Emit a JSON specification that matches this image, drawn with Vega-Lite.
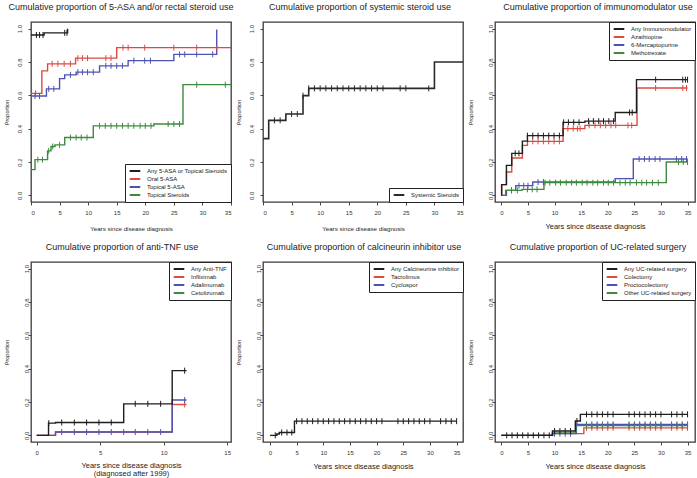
{
"$schema": "https://vega.github.io/schema/vega-lite/v6.json",
"background": "white",
"padding": {"left": 3, "top": 1, "right": 0, "bottom": 0},
"config": {
 "font": "Liberation Sans",
 "view": {"stroke": "#3a3a3a", "strokeWidth": 1.3},
 "title": {"fontSize": 9, "fontWeight": "normal", "color": "#222", "anchor": "middle", "frame": "group", "offset": 10},
 "axis": {"domain": false, "grid": false, "tickColor": "#444", "tickSize": 3, "tickWidth": 1, "labelFontSize": 6, "labelColor": "#333", "titleFontWeight": "normal", "titleColor": "#222", "titleFontSize": 7.5},
 "axisX": {"labelPadding": 4, "titleX": 100, "titleY": 24, "titleBaseline": "middle", "titleAlign": "center"},
 "axisY": {"labelAngle": 270, "labelAlign": "center", "labelBaseline": "middle", "labelPadding": 2, "titleAngle": 270, "titleFontSize": 5.5, "titleX": -25, "titleY": 90, "titleAlign": "center", "titleBaseline": "middle"},
 "legend": {"fillColor": "white", "strokeColor": "#222", "padding": 3, "offset": 0, "labelFontSize": 6, "labelColor": "#222", "symbolType": "M-2,0L2,0", "symbolSize": 28, "symbolStrokeWidth": 2, "symbolOffset": 3, "rowPadding": 0, "labelOffset": 8, "cornerRadius": 0}
},
"datasets": {
 "p1": [
  {"series":"Oral 5-ASA","kind":"step","years":0,"prop":0.612},
  {"series":"Oral 5-ASA","kind":"step","years":1.9,"prop":0.747},
  {"series":"Oral 5-ASA","kind":"step","years":2.9,"prop":0.789},
  {"series":"Oral 5-ASA","kind":"step","years":7.8,"prop":0.823},
  {"series":"Oral 5-ASA","kind":"step","years":15.0,"prop":0.886},
  {"series":"Oral 5-ASA","kind":"step","years":35,"prop":0.886},
  {"series":"Oral 5-ASA","kind":"cens","years":0.8,"prop":0.612},
  {"series":"Oral 5-ASA","kind":"cens","years":3.7,"prop":0.789},
  {"series":"Oral 5-ASA","kind":"cens","years":4.7,"prop":0.789},
  {"series":"Oral 5-ASA","kind":"cens","years":5.8,"prop":0.789},
  {"series":"Oral 5-ASA","kind":"cens","years":6.9,"prop":0.789},
  {"series":"Oral 5-ASA","kind":"cens","years":8.2,"prop":0.823},
  {"series":"Oral 5-ASA","kind":"cens","years":9.0,"prop":0.823},
  {"series":"Oral 5-ASA","kind":"cens","years":9.9,"prop":0.823},
  {"series":"Oral 5-ASA","kind":"cens","years":13.1,"prop":0.823},
  {"series":"Oral 5-ASA","kind":"cens","years":14.0,"prop":0.823},
  {"series":"Oral 5-ASA","kind":"cens","years":16.1,"prop":0.886},
  {"series":"Oral 5-ASA","kind":"cens","years":17.0,"prop":0.886},
  {"series":"Oral 5-ASA","kind":"cens","years":19.9,"prop":0.886},
  {"series":"Oral 5-ASA","kind":"cens","years":25.0,"prop":0.886},
  {"series":"Oral 5-ASA","kind":"cens","years":29.0,"prop":0.886},
  {"series":"Oral 5-ASA","kind":"cens","years":32.5,"prop":0.886},
  {"series":"Topical 5-ASA","kind":"step","years":0,"prop":0.596},
  {"series":"Topical 5-ASA","kind":"step","years":2.7,"prop":0.639},
  {"series":"Topical 5-ASA","kind":"step","years":5.0,"prop":0.70},
  {"series":"Topical 5-ASA","kind":"step","years":5.9,"prop":0.723},
  {"series":"Topical 5-ASA","kind":"step","years":7.9,"prop":0.739},
  {"series":"Topical 5-ASA","kind":"step","years":12.0,"prop":0.777},
  {"series":"Topical 5-ASA","kind":"step","years":17.0,"prop":0.808},
  {"series":"Topical 5-ASA","kind":"step","years":25.0,"prop":0.846},
  {"series":"Topical 5-ASA","kind":"step","years":32.5,"prop":0.995},
  {"series":"Topical 5-ASA","kind":"cens","years":0.7,"prop":0.596},
  {"series":"Topical 5-ASA","kind":"cens","years":1.5,"prop":0.596},
  {"series":"Topical 5-ASA","kind":"cens","years":3.1,"prop":0.639},
  {"series":"Topical 5-ASA","kind":"cens","years":4.0,"prop":0.639},
  {"series":"Topical 5-ASA","kind":"cens","years":6.9,"prop":0.723},
  {"series":"Topical 5-ASA","kind":"cens","years":8.2,"prop":0.739},
  {"series":"Topical 5-ASA","kind":"cens","years":9.0,"prop":0.739},
  {"series":"Topical 5-ASA","kind":"cens","years":9.9,"prop":0.739},
  {"series":"Topical 5-ASA","kind":"cens","years":10.9,"prop":0.739},
  {"series":"Topical 5-ASA","kind":"cens","years":13.1,"prop":0.777},
  {"series":"Topical 5-ASA","kind":"cens","years":14.0,"prop":0.777},
  {"series":"Topical 5-ASA","kind":"cens","years":15.0,"prop":0.777},
  {"series":"Topical 5-ASA","kind":"cens","years":16.0,"prop":0.777},
  {"series":"Topical 5-ASA","kind":"cens","years":18.0,"prop":0.808},
  {"series":"Topical 5-ASA","kind":"cens","years":19.9,"prop":0.808},
  {"series":"Topical 5-ASA","kind":"cens","years":20.9,"prop":0.808},
  {"series":"Topical 5-ASA","kind":"cens","years":26.0,"prop":0.846},
  {"series":"Topical 5-ASA","kind":"cens","years":26.9,"prop":0.846},
  {"series":"Topical 5-ASA","kind":"cens","years":29.0,"prop":0.846},
  {"series":"Topical 5-ASA","kind":"cens","years":31.8,"prop":0.846},
  {"series":"Topical Steroids","kind":"step","years":0,"prop":0.154},
  {"series":"Topical Steroids","kind":"step","years":0.7,"prop":0.214},
  {"series":"Topical Steroids","kind":"step","years":2.9,"prop":0.267},
  {"series":"Topical Steroids","kind":"step","years":3.5,"prop":0.293},
  {"series":"Topical Steroids","kind":"step","years":4.2,"prop":0.303},
  {"series":"Topical Steroids","kind":"step","years":5.9,"prop":0.347},
  {"series":"Topical Steroids","kind":"step","years":10.9,"prop":0.417},
  {"series":"Topical Steroids","kind":"step","years":21.5,"prop":0.428},
  {"series":"Topical Steroids","kind":"step","years":26.6,"prop":0.664},
  {"series":"Topical Steroids","kind":"step","years":35,"prop":0.664},
  {"series":"Topical Steroids","kind":"cens","years":1.2,"prop":0.214},
  {"series":"Topical Steroids","kind":"cens","years":2.0,"prop":0.214},
  {"series":"Topical Steroids","kind":"cens","years":3.1,"prop":0.267},
  {"series":"Topical Steroids","kind":"cens","years":3.8,"prop":0.293},
  {"series":"Topical Steroids","kind":"cens","years":5.0,"prop":0.303},
  {"series":"Topical Steroids","kind":"cens","years":6.9,"prop":0.347},
  {"series":"Topical Steroids","kind":"cens","years":7.9,"prop":0.347},
  {"series":"Topical Steroids","kind":"cens","years":8.8,"prop":0.347},
  {"series":"Topical Steroids","kind":"cens","years":9.8,"prop":0.347},
  {"series":"Topical Steroids","kind":"cens","years":12,"prop":0.417},
  {"series":"Topical Steroids","kind":"cens","years":13,"prop":0.417},
  {"series":"Topical Steroids","kind":"cens","years":14,"prop":0.417},
  {"series":"Topical Steroids","kind":"cens","years":15,"prop":0.417},
  {"series":"Topical Steroids","kind":"cens","years":16,"prop":0.417},
  {"series":"Topical Steroids","kind":"cens","years":17,"prop":0.417},
  {"series":"Topical Steroids","kind":"cens","years":18,"prop":0.417},
  {"series":"Topical Steroids","kind":"cens","years":19.1,"prop":0.417},
  {"series":"Topical Steroids","kind":"cens","years":20,"prop":0.417},
  {"series":"Topical Steroids","kind":"cens","years":21,"prop":0.417},
  {"series":"Topical Steroids","kind":"cens","years":24,"prop":0.428},
  {"series":"Topical Steroids","kind":"cens","years":25,"prop":0.428},
  {"series":"Topical Steroids","kind":"cens","years":26,"prop":0.428},
  {"series":"Topical Steroids","kind":"cens","years":29,"prop":0.664},
  {"series":"Topical Steroids","kind":"cens","years":34,"prop":0.664},
  {"series":"Any 5-ASA or Topical Steroids","kind":"step","years":0,"prop":0.962},
  {"series":"Any 5-ASA or Topical Steroids","kind":"step","years":2.3,"prop":0.975},
  {"series":"Any 5-ASA or Topical Steroids","kind":"step","years":6.4,"prop":1.0},
  {"series":"Any 5-ASA or Topical Steroids","kind":"cens","years":0.95,"prop":0.962},
  {"series":"Any 5-ASA or Topical Steroids","kind":"cens","years":1.5,"prop":0.962},
  {"series":"Any 5-ASA or Topical Steroids","kind":"cens","years":2.1,"prop":0.962},
  {"series":"Any 5-ASA or Topical Steroids","kind":"cens","years":5.9,"prop":0.975},
  {"series":"Any 5-ASA or Topical Steroids","kind":"cens","years":6.3,"prop":0.975}
 ],
 "p2": [
  {"series":"Systemic Steroids","kind":"step","years":0,"prop":0.34},
  {"series":"Systemic Steroids","kind":"step","years":1.0,"prop":0.45},
  {"series":"Systemic Steroids","kind":"step","years":4.0,"prop":0.488},
  {"series":"Systemic Steroids","kind":"step","years":7.0,"prop":0.598},
  {"series":"Systemic Steroids","kind":"step","years":8.0,"prop":0.642},
  {"series":"Systemic Steroids","kind":"step","years":30.0,"prop":0.80},
  {"series":"Systemic Steroids","kind":"step","years":35,"prop":0.80},
  {"series":"Systemic Steroids","kind":"cens","years":2,"prop":0.45},
  {"series":"Systemic Steroids","kind":"cens","years":3,"prop":0.45},
  {"series":"Systemic Steroids","kind":"cens","years":5,"prop":0.488},
  {"series":"Systemic Steroids","kind":"cens","years":6,"prop":0.488},
  {"series":"Systemic Steroids","kind":"cens","years":7,"prop":0.598},
  {"series":"Systemic Steroids","kind":"cens","years":8,"prop":0.642},
  {"series":"Systemic Steroids","kind":"cens","years":9,"prop":0.642},
  {"series":"Systemic Steroids","kind":"cens","years":10,"prop":0.642},
  {"series":"Systemic Steroids","kind":"cens","years":11,"prop":0.642},
  {"series":"Systemic Steroids","kind":"cens","years":12,"prop":0.642},
  {"series":"Systemic Steroids","kind":"cens","years":13,"prop":0.642},
  {"series":"Systemic Steroids","kind":"cens","years":14,"prop":0.642},
  {"series":"Systemic Steroids","kind":"cens","years":15,"prop":0.642},
  {"series":"Systemic Steroids","kind":"cens","years":16,"prop":0.642},
  {"series":"Systemic Steroids","kind":"cens","years":17,"prop":0.642},
  {"series":"Systemic Steroids","kind":"cens","years":18,"prop":0.642},
  {"series":"Systemic Steroids","kind":"cens","years":19,"prop":0.642},
  {"series":"Systemic Steroids","kind":"cens","years":20,"prop":0.642},
  {"series":"Systemic Steroids","kind":"cens","years":21,"prop":0.642},
  {"series":"Systemic Steroids","kind":"cens","years":24,"prop":0.642},
  {"series":"Systemic Steroids","kind":"cens","years":25,"prop":0.642},
  {"series":"Systemic Steroids","kind":"cens","years":29,"prop":0.642}
 ],
 "p3": [
  {"series":"Azathiopine","kind":"step","years":0,"prop":0},
  {"series":"Azathiopine","kind":"step","years":0.05,"prop":0.064},
  {"series":"Azathiopine","kind":"step","years":0.95,"prop":0.14},
  {"series":"Azathiopine","kind":"step","years":1.95,"prop":0.224},
  {"series":"Azathiopine","kind":"step","years":3.95,"prop":0.30},
  {"series":"Azathiopine","kind":"step","years":4.9,"prop":0.324},
  {"series":"Azathiopine","kind":"step","years":11.6,"prop":0.40},
  {"series":"Azathiopine","kind":"step","years":15.7,"prop":0.42},
  {"series":"Azathiopine","kind":"step","years":25.5,"prop":0.644},
  {"series":"Azathiopine","kind":"step","years":35,"prop":0.644},
  {"series":"Azathiopine","kind":"cens","years":5.9,"prop":0.324},
  {"series":"Azathiopine","kind":"cens","years":6.9,"prop":0.324},
  {"series":"Azathiopine","kind":"cens","years":7.9,"prop":0.324},
  {"series":"Azathiopine","kind":"cens","years":8.9,"prop":0.324},
  {"series":"Azathiopine","kind":"cens","years":9.9,"prop":0.324},
  {"series":"Azathiopine","kind":"cens","years":10.9,"prop":0.324},
  {"series":"Azathiopine","kind":"cens","years":12.5,"prop":0.40},
  {"series":"Azathiopine","kind":"cens","years":13.5,"prop":0.40},
  {"series":"Azathiopine","kind":"cens","years":14.3,"prop":0.40},
  {"series":"Azathiopine","kind":"cens","years":14.8,"prop":0.40},
  {"series":"Azathiopine","kind":"cens","years":16.5,"prop":0.42},
  {"series":"Azathiopine","kind":"cens","years":17.6,"prop":0.42},
  {"series":"Azathiopine","kind":"cens","years":18.6,"prop":0.42},
  {"series":"Azathiopine","kind":"cens","years":19.6,"prop":0.42},
  {"series":"Azathiopine","kind":"cens","years":20.6,"prop":0.42},
  {"series":"Azathiopine","kind":"cens","years":21.5,"prop":0.42},
  {"series":"Azathiopine","kind":"cens","years":23.8,"prop":0.42},
  {"series":"Azathiopine","kind":"cens","years":24.5,"prop":0.42},
  {"series":"Azathiopine","kind":"cens","years":29.0,"prop":0.644},
  {"series":"Azathiopine","kind":"cens","years":34.1,"prop":0.644},
  {"series":"Azathiopine","kind":"cens","years":34.8,"prop":0.644},
  {"series":"6-Mercaptopurine","kind":"step","years":0,"prop":0},
  {"series":"6-Mercaptopurine","kind":"step","years":0.95,"prop":0.03},
  {"series":"6-Mercaptopurine","kind":"step","years":2.7,"prop":0.058},
  {"series":"6-Mercaptopurine","kind":"step","years":5.9,"prop":0.08},
  {"series":"6-Mercaptopurine","kind":"step","years":21.4,"prop":0.10},
  {"series":"6-Mercaptopurine","kind":"step","years":24.8,"prop":0.218},
  {"series":"6-Mercaptopurine","kind":"step","years":35,"prop":0.218},
  {"series":"6-Mercaptopurine","kind":"cens","years":1.9,"prop":0.03},
  {"series":"6-Mercaptopurine","kind":"cens","years":3.3,"prop":0.058},
  {"series":"6-Mercaptopurine","kind":"cens","years":4.2,"prop":0.058},
  {"series":"6-Mercaptopurine","kind":"cens","years":5.0,"prop":0.058},
  {"series":"6-Mercaptopurine","kind":"cens","years":6.9,"prop":0.08},
  {"series":"6-Mercaptopurine","kind":"cens","years":7.9,"prop":0.08},
  {"series":"6-Mercaptopurine","kind":"cens","years":25.9,"prop":0.218},
  {"series":"6-Mercaptopurine","kind":"cens","years":26.9,"prop":0.218},
  {"series":"6-Mercaptopurine","kind":"cens","years":27.8,"prop":0.218},
  {"series":"6-Mercaptopurine","kind":"cens","years":28.9,"prop":0.218},
  {"series":"6-Mercaptopurine","kind":"cens","years":29.8,"prop":0.218},
  {"series":"6-Mercaptopurine","kind":"cens","years":32.9,"prop":0.218},
  {"series":"6-Mercaptopurine","kind":"cens","years":33.9,"prop":0.218},
  {"series":"6-Mercaptopurine","kind":"cens","years":34.8,"prop":0.218},
  {"series":"Methotrexate","kind":"step","years":0,"prop":0},
  {"series":"Methotrexate","kind":"step","years":0.8,"prop":0.03},
  {"series":"Methotrexate","kind":"step","years":3.9,"prop":0.036},
  {"series":"Methotrexate","kind":"step","years":8.0,"prop":0.076},
  {"series":"Methotrexate","kind":"step","years":31.0,"prop":0.20},
  {"series":"Methotrexate","kind":"step","years":35,"prop":0.20},
  {"series":"Methotrexate","kind":"cens","years":1.9,"prop":0.03},
  {"series":"Methotrexate","kind":"cens","years":3.0,"prop":0.03},
  {"series":"Methotrexate","kind":"cens","years":4.9,"prop":0.036},
  {"series":"Methotrexate","kind":"cens","years":5.8,"prop":0.036},
  {"series":"Methotrexate","kind":"cens","years":6.7,"prop":0.036},
  {"series":"Methotrexate","kind":"cens","years":8.2,"prop":0.076},
  {"series":"Methotrexate","kind":"cens","years":9.1,"prop":0.076},
  {"series":"Methotrexate","kind":"cens","years":10.2,"prop":0.076},
  {"series":"Methotrexate","kind":"cens","years":11.1,"prop":0.076},
  {"series":"Methotrexate","kind":"cens","years":12.2,"prop":0.076},
  {"series":"Methotrexate","kind":"cens","years":13.2,"prop":0.076},
  {"series":"Methotrexate","kind":"cens","years":14.1,"prop":0.076},
  {"series":"Methotrexate","kind":"cens","years":15.2,"prop":0.076},
  {"series":"Methotrexate","kind":"cens","years":16.1,"prop":0.076},
  {"series":"Methotrexate","kind":"cens","years":17.2,"prop":0.076},
  {"series":"Methotrexate","kind":"cens","years":18.1,"prop":0.076},
  {"series":"Methotrexate","kind":"cens","years":19.2,"prop":0.076},
  {"series":"Methotrexate","kind":"cens","years":20.1,"prop":0.076},
  {"series":"Methotrexate","kind":"cens","years":21.1,"prop":0.076},
  {"series":"Methotrexate","kind":"cens","years":22.3,"prop":0.076},
  {"series":"Methotrexate","kind":"cens","years":23.3,"prop":0.076},
  {"series":"Methotrexate","kind":"cens","years":24.2,"prop":0.076},
  {"series":"Methotrexate","kind":"cens","years":25.4,"prop":0.076},
  {"series":"Methotrexate","kind":"cens","years":26.4,"prop":0.076},
  {"series":"Methotrexate","kind":"cens","years":27.3,"prop":0.076},
  {"series":"Methotrexate","kind":"cens","years":28.4,"prop":0.076},
  {"series":"Methotrexate","kind":"cens","years":29.5,"prop":0.076},
  {"series":"Methotrexate","kind":"cens","years":33.3,"prop":0.20},
  {"series":"Methotrexate","kind":"cens","years":34.2,"prop":0.20},
  {"series":"Methotrexate","kind":"cens","years":35.0,"prop":0.20},
  {"series":"Any Immunomodulator","kind":"step","years":0,"prop":0},
  {"series":"Any Immunomodulator","kind":"step","years":0.05,"prop":0.064},
  {"series":"Any Immunomodulator","kind":"step","years":0.95,"prop":0.18},
  {"series":"Any Immunomodulator","kind":"step","years":1.95,"prop":0.252},
  {"series":"Any Immunomodulator","kind":"step","years":3.95,"prop":0.325},
  {"series":"Any Immunomodulator","kind":"step","years":4.9,"prop":0.358},
  {"series":"Any Immunomodulator","kind":"step","years":11.6,"prop":0.438},
  {"series":"Any Immunomodulator","kind":"step","years":15.7,"prop":0.445},
  {"series":"Any Immunomodulator","kind":"step","years":21.4,"prop":0.497},
  {"series":"Any Immunomodulator","kind":"step","years":25.4,"prop":0.694},
  {"series":"Any Immunomodulator","kind":"step","years":35,"prop":0.694},
  {"series":"Any Immunomodulator","kind":"cens","years":2.6,"prop":0.252},
  {"series":"Any Immunomodulator","kind":"cens","years":3.3,"prop":0.252},
  {"series":"Any Immunomodulator","kind":"cens","years":4.9,"prop":0.358},
  {"series":"Any Immunomodulator","kind":"cens","years":5.9,"prop":0.358},
  {"series":"Any Immunomodulator","kind":"cens","years":6.9,"prop":0.358},
  {"series":"Any Immunomodulator","kind":"cens","years":7.9,"prop":0.358},
  {"series":"Any Immunomodulator","kind":"cens","years":8.9,"prop":0.358},
  {"series":"Any Immunomodulator","kind":"cens","years":9.9,"prop":0.358},
  {"series":"Any Immunomodulator","kind":"cens","years":10.9,"prop":0.358},
  {"series":"Any Immunomodulator","kind":"cens","years":11.7,"prop":0.438},
  {"series":"Any Immunomodulator","kind":"cens","years":12.6,"prop":0.438},
  {"series":"Any Immunomodulator","kind":"cens","years":13.6,"prop":0.438},
  {"series":"Any Immunomodulator","kind":"cens","years":14.6,"prop":0.438},
  {"series":"Any Immunomodulator","kind":"cens","years":16.4,"prop":0.445},
  {"series":"Any Immunomodulator","kind":"cens","years":17.3,"prop":0.445},
  {"series":"Any Immunomodulator","kind":"cens","years":18.3,"prop":0.445},
  {"series":"Any Immunomodulator","kind":"cens","years":19.2,"prop":0.445},
  {"series":"Any Immunomodulator","kind":"cens","years":20.2,"prop":0.445},
  {"series":"Any Immunomodulator","kind":"cens","years":21.1,"prop":0.445},
  {"series":"Any Immunomodulator","kind":"cens","years":24.1,"prop":0.497},
  {"series":"Any Immunomodulator","kind":"cens","years":24.6,"prop":0.497},
  {"series":"Any Immunomodulator","kind":"cens","years":29.0,"prop":0.694},
  {"series":"Any Immunomodulator","kind":"cens","years":34.1,"prop":0.694},
  {"series":"Any Immunomodulator","kind":"cens","years":34.6,"prop":0.694},
  {"series":"Any Immunomodulator","kind":"cens","years":35.0,"prop":0.694}
 ],
 "p4": [
  {"series":"Infliximab","kind":"step","years":0,"prop":0},
  {"series":"Infliximab","kind":"step","years":1.48,"prop":0.02},
  {"series":"Infliximab","kind":"step","years":10.67,"prop":0.185},
  {"series":"Infliximab","kind":"step","years":11.8,"prop":0.185},
  {"series":"Infliximab","kind":"cens","years":11.65,"prop":0.185},
  {"series":"Adalimumab","kind":"step","years":0,"prop":0},
  {"series":"Adalimumab","kind":"step","years":1.48,"prop":0.02},
  {"series":"Adalimumab","kind":"step","years":10.67,"prop":0.212},
  {"series":"Adalimumab","kind":"step","years":11.8,"prop":0.212},
  {"series":"Adalimumab","kind":"cens","years":1.97,"prop":0.02},
  {"series":"Adalimumab","kind":"cens","years":2.96,"prop":0.02},
  {"series":"Adalimumab","kind":"cens","years":3.93,"prop":0.02},
  {"series":"Adalimumab","kind":"cens","years":4.9,"prop":0.02},
  {"series":"Adalimumab","kind":"cens","years":5.87,"prop":0.02},
  {"series":"Adalimumab","kind":"cens","years":6.85,"prop":0.02},
  {"series":"Adalimumab","kind":"cens","years":7.76,"prop":0.02},
  {"series":"Adalimumab","kind":"cens","years":8.75,"prop":0.02},
  {"series":"Adalimumab","kind":"cens","years":9.76,"prop":0.02},
  {"series":"Adalimumab","kind":"cens","years":11.65,"prop":0.212},
  {"series":"Any Anti-TNF","kind":"step","years":0,"prop":0},
  {"series":"Any Anti-TNF","kind":"step","years":0.93,"prop":0.073},
  {"series":"Any Anti-TNF","kind":"step","years":1.48,"prop":0.077},
  {"series":"Any Anti-TNF","kind":"step","years":6.85,"prop":0.189},
  {"series":"Any Anti-TNF","kind":"step","years":10.67,"prop":0.388},
  {"series":"Any Anti-TNF","kind":"step","years":11.8,"prop":0.388},
  {"series":"Any Anti-TNF","kind":"cens","years":0.95,"prop":0.073},
  {"series":"Any Anti-TNF","kind":"cens","years":1.97,"prop":0.077},
  {"series":"Any Anti-TNF","kind":"cens","years":2.96,"prop":0.077},
  {"series":"Any Anti-TNF","kind":"cens","years":3.93,"prop":0.077},
  {"series":"Any Anti-TNF","kind":"cens","years":4.9,"prop":0.077},
  {"series":"Any Anti-TNF","kind":"cens","years":5.87,"prop":0.077},
  {"series":"Any Anti-TNF","kind":"cens","years":7.76,"prop":0.189},
  {"series":"Any Anti-TNF","kind":"cens","years":8.75,"prop":0.189},
  {"series":"Any Anti-TNF","kind":"cens","years":9.76,"prop":0.189},
  {"series":"Any Anti-TNF","kind":"cens","years":11.65,"prop":0.388}
 ],
 "p5": [
  {"series":"Any Calcineurine inhibitor","kind":"step","years":0,"prop":0},
  {"series":"Any Calcineurine inhibitor","kind":"step","years":1.3,"prop":0.008},
  {"series":"Any Calcineurine inhibitor","kind":"step","years":1.75,"prop":0.017},
  {"series":"Any Calcineurine inhibitor","kind":"step","years":4.6,"prop":0.085},
  {"series":"Any Calcineurine inhibitor","kind":"step","years":35,"prop":0.085},
  {"series":"Any Calcineurine inhibitor","kind":"cens","years":1.0,"prop":0},
  {"series":"Any Calcineurine inhibitor","kind":"cens","years":2.2,"prop":0.017},
  {"series":"Any Calcineurine inhibitor","kind":"cens","years":3.2,"prop":0.017},
  {"series":"Any Calcineurine inhibitor","kind":"cens","years":4.1,"prop":0.017},
  {"series":"Any Calcineurine inhibitor","kind":"cens","years":5,"prop":0.085},
  {"series":"Any Calcineurine inhibitor","kind":"cens","years":6,"prop":0.085},
  {"series":"Any Calcineurine inhibitor","kind":"cens","years":7,"prop":0.085},
  {"series":"Any Calcineurine inhibitor","kind":"cens","years":8,"prop":0.085},
  {"series":"Any Calcineurine inhibitor","kind":"cens","years":9,"prop":0.085},
  {"series":"Any Calcineurine inhibitor","kind":"cens","years":10,"prop":0.085},
  {"series":"Any Calcineurine inhibitor","kind":"cens","years":11,"prop":0.085},
  {"series":"Any Calcineurine inhibitor","kind":"cens","years":12,"prop":0.085},
  {"series":"Any Calcineurine inhibitor","kind":"cens","years":13,"prop":0.085},
  {"series":"Any Calcineurine inhibitor","kind":"cens","years":14,"prop":0.085},
  {"series":"Any Calcineurine inhibitor","kind":"cens","years":15,"prop":0.085},
  {"series":"Any Calcineurine inhibitor","kind":"cens","years":16,"prop":0.085},
  {"series":"Any Calcineurine inhibitor","kind":"cens","years":17,"prop":0.085},
  {"series":"Any Calcineurine inhibitor","kind":"cens","years":18,"prop":0.085},
  {"series":"Any Calcineurine inhibitor","kind":"cens","years":19,"prop":0.085},
  {"series":"Any Calcineurine inhibitor","kind":"cens","years":20,"prop":0.085},
  {"series":"Any Calcineurine inhibitor","kind":"cens","years":21,"prop":0.085},
  {"series":"Any Calcineurine inhibitor","kind":"cens","years":24,"prop":0.085},
  {"series":"Any Calcineurine inhibitor","kind":"cens","years":25,"prop":0.085},
  {"series":"Any Calcineurine inhibitor","kind":"cens","years":26,"prop":0.085},
  {"series":"Any Calcineurine inhibitor","kind":"cens","years":27,"prop":0.085},
  {"series":"Any Calcineurine inhibitor","kind":"cens","years":28,"prop":0.085},
  {"series":"Any Calcineurine inhibitor","kind":"cens","years":29,"prop":0.085},
  {"series":"Any Calcineurine inhibitor","kind":"cens","years":30,"prop":0.085},
  {"series":"Any Calcineurine inhibitor","kind":"cens","years":32,"prop":0.085},
  {"series":"Any Calcineurine inhibitor","kind":"cens","years":33,"prop":0.085},
  {"series":"Any Calcineurine inhibitor","kind":"cens","years":34,"prop":0.085},
  {"series":"Any Calcineurine inhibitor","kind":"cens","years":35,"prop":0.085}
 ],
 "p6": [
  {"series":"Colectomy","kind":"step","years":0,"prop":0},
  {"series":"Colectomy","kind":"step","years":9.6,"prop":0.01},
  {"series":"Colectomy","kind":"step","years":15.5,"prop":0.045},
  {"series":"Colectomy","kind":"step","years":35,"prop":0.045},
  {"series":"Proctocolectomy","kind":"step","years":0,"prop":0},
  {"series":"Proctocolectomy","kind":"step","years":9.6,"prop":0.01},
  {"series":"Proctocolectomy","kind":"step","years":14.1,"prop":0.066},
  {"series":"Proctocolectomy","kind":"step","years":35,"prop":0.066},
  {"series":"Other UC-related surgery","kind":"step","years":0,"prop":0},
  {"series":"Other UC-related surgery","kind":"step","years":9.6,"prop":0.015},
  {"series":"Other UC-related surgery","kind":"step","years":14.0,"prop":0.058},
  {"series":"Other UC-related surgery","kind":"step","years":35,"prop":0.058},
  {"series":"Colectomy","kind":"cens","years":16,"prop":0.045},
  {"series":"Colectomy","kind":"cens","years":17,"prop":0.045},
  {"series":"Colectomy","kind":"cens","years":18,"prop":0.045},
  {"series":"Colectomy","kind":"cens","years":19,"prop":0.045},
  {"series":"Colectomy","kind":"cens","years":20,"prop":0.045},
  {"series":"Colectomy","kind":"cens","years":21,"prop":0.045},
  {"series":"Colectomy","kind":"cens","years":24,"prop":0.045},
  {"series":"Colectomy","kind":"cens","years":25,"prop":0.045},
  {"series":"Colectomy","kind":"cens","years":26,"prop":0.045},
  {"series":"Colectomy","kind":"cens","years":27,"prop":0.045},
  {"series":"Colectomy","kind":"cens","years":28,"prop":0.045},
  {"series":"Colectomy","kind":"cens","years":29,"prop":0.045},
  {"series":"Colectomy","kind":"cens","years":30,"prop":0.045},
  {"series":"Colectomy","kind":"cens","years":32,"prop":0.045},
  {"series":"Colectomy","kind":"cens","years":33,"prop":0.045},
  {"series":"Colectomy","kind":"cens","years":34,"prop":0.045},
  {"series":"Colectomy","kind":"cens","years":35,"prop":0.045},
  {"series":"Proctocolectomy","kind":"cens","years":10,"prop":0.01},
  {"series":"Proctocolectomy","kind":"cens","years":11,"prop":0.01},
  {"series":"Proctocolectomy","kind":"cens","years":12,"prop":0.01},
  {"series":"Proctocolectomy","kind":"cens","years":13,"prop":0.01},
  {"series":"Proctocolectomy","kind":"cens","years":16,"prop":0.066},
  {"series":"Proctocolectomy","kind":"cens","years":17,"prop":0.066},
  {"series":"Proctocolectomy","kind":"cens","years":18,"prop":0.066},
  {"series":"Proctocolectomy","kind":"cens","years":19,"prop":0.066},
  {"series":"Proctocolectomy","kind":"cens","years":20,"prop":0.066},
  {"series":"Proctocolectomy","kind":"cens","years":21,"prop":0.066},
  {"series":"Proctocolectomy","kind":"cens","years":24,"prop":0.066},
  {"series":"Proctocolectomy","kind":"cens","years":25,"prop":0.066},
  {"series":"Proctocolectomy","kind":"cens","years":26,"prop":0.066},
  {"series":"Proctocolectomy","kind":"cens","years":27,"prop":0.066},
  {"series":"Proctocolectomy","kind":"cens","years":28,"prop":0.066},
  {"series":"Proctocolectomy","kind":"cens","years":29,"prop":0.066},
  {"series":"Proctocolectomy","kind":"cens","years":30,"prop":0.066},
  {"series":"Proctocolectomy","kind":"cens","years":32,"prop":0.066},
  {"series":"Proctocolectomy","kind":"cens","years":33,"prop":0.066},
  {"series":"Proctocolectomy","kind":"cens","years":34,"prop":0.066},
  {"series":"Proctocolectomy","kind":"cens","years":35,"prop":0.066},
  {"series":"Other UC-related surgery","kind":"cens","years":16,"prop":0.058},
  {"series":"Other UC-related surgery","kind":"cens","years":17,"prop":0.058},
  {"series":"Other UC-related surgery","kind":"cens","years":18,"prop":0.058},
  {"series":"Other UC-related surgery","kind":"cens","years":19,"prop":0.058},
  {"series":"Other UC-related surgery","kind":"cens","years":20,"prop":0.058},
  {"series":"Other UC-related surgery","kind":"cens","years":21,"prop":0.058},
  {"series":"Other UC-related surgery","kind":"cens","years":24,"prop":0.058},
  {"series":"Other UC-related surgery","kind":"cens","years":25,"prop":0.058},
  {"series":"Other UC-related surgery","kind":"cens","years":26,"prop":0.058},
  {"series":"Other UC-related surgery","kind":"cens","years":27,"prop":0.058},
  {"series":"Other UC-related surgery","kind":"cens","years":28,"prop":0.058},
  {"series":"Other UC-related surgery","kind":"cens","years":29,"prop":0.058},
  {"series":"Other UC-related surgery","kind":"cens","years":30,"prop":0.058},
  {"series":"Other UC-related surgery","kind":"cens","years":32,"prop":0.058},
  {"series":"Other UC-related surgery","kind":"cens","years":33,"prop":0.058},
  {"series":"Other UC-related surgery","kind":"cens","years":34,"prop":0.058},
  {"series":"Other UC-related surgery","kind":"cens","years":35,"prop":0.058},
  {"series":"Any UC-related surgery","kind":"step","years":0,"prop":0},
  {"series":"Any UC-related surgery","kind":"step","years":9.6,"prop":0.026},
  {"series":"Any UC-related surgery","kind":"step","years":13.9,"prop":0.086},
  {"series":"Any UC-related surgery","kind":"step","years":14.85,"prop":0.126},
  {"series":"Any UC-related surgery","kind":"step","years":35,"prop":0.126},
  {"series":"Any UC-related surgery","kind":"cens","years":1,"prop":0},
  {"series":"Any UC-related surgery","kind":"cens","years":2,"prop":0},
  {"series":"Any UC-related surgery","kind":"cens","years":3,"prop":0},
  {"series":"Any UC-related surgery","kind":"cens","years":4,"prop":0},
  {"series":"Any UC-related surgery","kind":"cens","years":5,"prop":0},
  {"series":"Any UC-related surgery","kind":"cens","years":6,"prop":0},
  {"series":"Any UC-related surgery","kind":"cens","years":7,"prop":0},
  {"series":"Any UC-related surgery","kind":"cens","years":8,"prop":0},
  {"series":"Any UC-related surgery","kind":"cens","years":9,"prop":0},
  {"series":"Any UC-related surgery","kind":"cens","years":10,"prop":0.026},
  {"series":"Any UC-related surgery","kind":"cens","years":11,"prop":0.026},
  {"series":"Any UC-related surgery","kind":"cens","years":12,"prop":0.026},
  {"series":"Any UC-related surgery","kind":"cens","years":13,"prop":0.026},
  {"series":"Any UC-related surgery","kind":"cens","years":14.2,"prop":0.086},
  {"series":"Any UC-related surgery","kind":"cens","years":16,"prop":0.126},
  {"series":"Any UC-related surgery","kind":"cens","years":17,"prop":0.126},
  {"series":"Any UC-related surgery","kind":"cens","years":18,"prop":0.126},
  {"series":"Any UC-related surgery","kind":"cens","years":19,"prop":0.126},
  {"series":"Any UC-related surgery","kind":"cens","years":20,"prop":0.126},
  {"series":"Any UC-related surgery","kind":"cens","years":21,"prop":0.126},
  {"series":"Any UC-related surgery","kind":"cens","years":24,"prop":0.126},
  {"series":"Any UC-related surgery","kind":"cens","years":25,"prop":0.126},
  {"series":"Any UC-related surgery","kind":"cens","years":26,"prop":0.126},
  {"series":"Any UC-related surgery","kind":"cens","years":27,"prop":0.126},
  {"series":"Any UC-related surgery","kind":"cens","years":28,"prop":0.126},
  {"series":"Any UC-related surgery","kind":"cens","years":29,"prop":0.126},
  {"series":"Any UC-related surgery","kind":"cens","years":30,"prop":0.126},
  {"series":"Any UC-related surgery","kind":"cens","years":32,"prop":0.126},
  {"series":"Any UC-related surgery","kind":"cens","years":33,"prop":0.126},
  {"series":"Any UC-related surgery","kind":"cens","years":34,"prop":0.126},
  {"series":"Any UC-related surgery","kind":"cens","years":35,"prop":0.126}
 ]
},
"columns": 3,
"bounds": "flush",
"spacing": {"row": 60, "column": 32},
"resolve": {"scale": {"color": "independent", "stroke": "independent", "x": "independent", "y": "independent"}, "legend": {"color": "independent"}},
"concat": [
 {
  "width": 200, "height": 180,
  "data": {"name": "p1"},
  "title": {"text": "Cumulative proportion of 5-ASA  and/or rectal steroid use", "dx": -10},
  "encoding": {
   "x": {"field": "years", "type": "quantitative", "scale": {"domain": [0, 35], "nice": false, "zero": false}, "axis": {"values": [0,5,10,15,20,25,30,35], "title": "Years since disease diagnosis", "titleFontSize": 6.2, "titleY": 26}},
   "y": {"field": "prop", "type": "quantitative", "scale": {"domain": [-0.04, 1.04], "nice": false, "zero": false}, "axis": {"values": [0,0.2,0.4,0.6,0.8,1], "format": ".1f", "title": "Proportion", "labelPadding": 8.5}}
  },
  "layer": [
   {"transform": [{"filter": "datum.kind == 'step'"}], "mark": {"type": "line", "interpolate": "step-after", "strokeWidth": 1.4},
    "encoding": {"color": {"field": "series", "type": "nominal", "scale": {"domain": ["Any 5-ASA or Topical Steroids","Oral 5-ASA","Topical 5-ASA","Topical Steroids"], "range": ["#1e1e1e","#dd4a42","#4d53b3","#3c8a3e"]}, "legend": {"title": null, "orient": "bottom-right"}}}},
   {"transform": [{"filter": "datum.kind == 'cens'"}], "mark": {"type": "point", "shape": "M0,-1L0,1", "size": 36, "filled": false, "strokeWidth": 1, "opacity": 1},
    "encoding": {"stroke": {"field": "series", "type": "nominal", "scale": {"domain": ["Any 5-ASA or Topical Steroids","Oral 5-ASA","Topical 5-ASA","Topical Steroids"], "range": ["#1e1e1e","#dd4a42","#4d53b3","#3c8a3e"]}, "legend": null}}}
  ]
 },
 {
  "width": 200, "height": 180,
  "data": {"name": "p2"},
  "title": {"text": "Cumulative proportion of  systemic steroid use", "dx": -3},
  "encoding": {
   "x": {"field": "years", "type": "quantitative", "scale": {"domain": [0, 35], "nice": false, "zero": false}, "axis": {"values": [0,5,10,15,20,25,30,35], "title": "Years since disease diagnosis", "titleFontSize": 6.2, "titleY": 26}},
   "y": {"field": "prop", "type": "quantitative", "scale": {"domain": [-0.04, 1.04], "nice": false, "zero": false}, "axis": {"values": [0,0.2,0.4,0.6,0.8,1], "format": ".1f", "title": "Proportion", "labelPadding": 8.5}}
  },
  "layer": [
   {"transform": [{"filter": "datum.kind == 'step'"}], "mark": {"type": "line", "interpolate": "step-after", "strokeWidth": 1.6},
    "encoding": {"color": {"field": "series", "type": "nominal", "scale": {"domain": ["Systemic Steroids"], "range": ["#2a2a2a"]}, "legend": {"title": null, "orient": "bottom-right"}}}},
   {"transform": [{"filter": "datum.kind == 'cens'"}], "mark": {"type": "point", "shape": "M0,-1L0,1", "size": 36, "filled": false, "strokeWidth": 1, "opacity": 1},
    "encoding": {"stroke": {"field": "series", "type": "nominal", "scale": {"domain": ["Systemic Steroids"], "range": ["#2a2a2a"]}, "legend": null}}}
  ]
 },
 {
  "width": 200, "height": 180,
  "data": {"name": "p3"},
  "title": {"text": "Cumulative proportion of immunomodulator use", "dx": 3},
  "encoding": {
   "x": {"field": "years", "type": "quantitative", "scale": {"domain": [-1.2, 36.4], "nice": false, "zero": false}, "axis": {"values": [0,5,10,15,20,25,30,35], "title": "Years since disease diagnosis"}},
   "y": {"field": "prop", "type": "quantitative", "scale": {"domain": [-0.04, 1.04], "nice": false, "zero": false}, "axis": {"values": [0,0.2,0.4,0.6,0.8,1], "format": ".1f", "title": "Proportion"}}
  },
  "layer": [
   {"transform": [{"filter": "datum.kind == 'step'"}], "mark": {"type": "line", "interpolate": "step-after", "strokeWidth": 1.4},
    "encoding": {"color": {"field": "series", "type": "nominal", "scale": {"domain": ["Any Immunomodulator","Azathiopine","6-Mercaptopurine","Methotrexate"], "range": ["#1e1e1e","#dd4a42","#4d53b3","#3c8a3e"]}, "legend": {"title": null, "orient": "top-right"}}}},
   {"transform": [{"filter": "datum.kind == 'cens'"}], "mark": {"type": "point", "shape": "M0,-1L0,1", "size": 36, "filled": false, "strokeWidth": 1, "opacity": 1},
    "encoding": {"stroke": {"field": "series", "type": "nominal", "scale": {"domain": ["Any Immunomodulator","Azathiopine","6-Mercaptopurine","Methotrexate"], "range": ["#1e1e1e","#dd4a42","#4d53b3","#3c8a3e"]}, "legend": null}}}
  ]
 },
 {
  "width": 200, "height": 180,
  "data": {"name": "p4"},
  "title": {"text": "Cumulative proportion of anti-TNF use", "dx": -9},
  "encoding": {
   "x": {"field": "years", "type": "quantitative", "scale": {"domain": [-0.45, 15.3], "nice": false, "zero": false}, "axis": {"values": [0,5,10,15], "title": ["Years since disease diagnosis", "(diagnosed after 1999)"], "titleLineHeight": 7.8, "titleY": 23.3}},
   "y": {"field": "prop", "type": "quantitative", "scale": {"domain": [-0.04, 1.04], "nice": false, "zero": false}, "axis": {"values": [0,0.2,0.4,0.6,0.8,1], "format": ".1f", "title": "Proportion"}}
  },
  "layer": [
   {"transform": [{"filter": "datum.kind == 'step'"}], "mark": {"type": "line", "interpolate": "step-after", "strokeWidth": 1.4},
    "encoding": {"color": {"field": "series", "type": "nominal", "scale": {"domain": ["Any Anti-TNF","Infliximab","Adalimumab","Cetolizumab"], "range": ["#1e1e1e","#dd4a42","#4d53b3","#3c8a3e"]}, "legend": {"title": null, "orient": "top-right"}}}},
   {"transform": [{"filter": "datum.kind == 'cens'"}], "mark": {"type": "point", "shape": "M0,-1L0,1", "size": 36, "filled": false, "strokeWidth": 1, "opacity": 1},
    "encoding": {"stroke": {"field": "series", "type": "nominal", "scale": {"domain": ["Any Anti-TNF","Infliximab","Adalimumab","Cetolizumab"], "range": ["#1e1e1e","#dd4a42","#4d53b3","#3c8a3e"]}, "legend": null}}}
  ]
 },
 {
  "width": 200, "height": 180,
  "data": {"name": "p5"},
  "title": {"text": "Cumulative proportion of calcineurin inhibitor use", "dx": 1},
  "encoding": {
   "x": {"field": "years", "type": "quantitative", "scale": {"domain": [-1.3, 36.2], "nice": false, "zero": false}, "axis": {"values": [0,5,10,15,20,25,30,35], "title": "Years since disease diagnosis"}},
   "y": {"field": "prop", "type": "quantitative", "scale": {"domain": [-0.04, 1.04], "nice": false, "zero": false}, "axis": {"values": [0,0.2,0.4,0.6,0.8,1], "format": ".1f", "title": "Proportion"}}
  },
  "layer": [
   {"transform": [{"filter": "datum.kind == 'step'"}], "mark": {"type": "line", "interpolate": "step-after", "strokeWidth": 1.4},
    "encoding": {"color": {"field": "series", "type": "nominal", "scale": {"domain": ["Any Calcineurine inhibitor","Tacrolimus","Cyclospor"], "range": ["#1e1e1e","#dd4a42","#4d53b3"]}, "legend": {"title": null, "orient": "top-right"}}}},
   {"transform": [{"filter": "datum.kind == 'cens'"}], "mark": {"type": "point", "shape": "M0,-1L0,1", "size": 36, "filled": false, "strokeWidth": 1, "opacity": 1},
    "encoding": {"stroke": {"field": "series", "type": "nominal", "scale": {"domain": ["Any Calcineurine inhibitor","Tacrolimus","Cyclospor"], "range": ["#1e1e1e","#dd4a42","#4d53b3"]}, "legend": null}}}
  ]
 },
 {
  "width": 200, "height": 180,
  "data": {"name": "p6"},
  "title": {"text": "Cumulative proportion of UC-related surgery", "dx": 3},
  "encoding": {
   "x": {"field": "years", "type": "quantitative", "scale": {"domain": [-1.2, 36.4], "nice": false, "zero": false}, "axis": {"values": [0,5,10,15,20,25,30,35], "title": "Years since disease diagnosis"}},
   "y": {"field": "prop", "type": "quantitative", "scale": {"domain": [-0.04, 1.04], "nice": false, "zero": false}, "axis": {"values": [0,0.2,0.4,0.6,0.8,1], "format": ".1f", "title": "Proportion"}}
  },
  "layer": [
   {"transform": [{"filter": "datum.kind == 'step'"}], "mark": {"type": "line", "interpolate": "step-after", "strokeWidth": 1.4},
    "encoding": {"color": {"field": "series", "type": "nominal", "scale": {"domain": ["Any UC-related surgery","Colectomy","Proctocolectomy","Other UC-related surgery"], "range": ["#1e1e1e","#dd4a42","#4d53b3","#3c8a3e"]}, "legend": {"title": null, "orient": "top-right"}}}},
   {"transform": [{"filter": "datum.kind == 'cens'"}], "mark": {"type": "point", "shape": "M0,-1L0,1", "size": 36, "filled": false, "strokeWidth": 1, "opacity": 1},
    "encoding": {"stroke": {"field": "series", "type": "nominal", "scale": {"domain": ["Any UC-related surgery","Colectomy","Proctocolectomy","Other UC-related surgery"], "range": ["#1e1e1e","#dd4a42","#4d53b3","#3c8a3e"]}, "legend": null}}}
  ]
 }
]
}
